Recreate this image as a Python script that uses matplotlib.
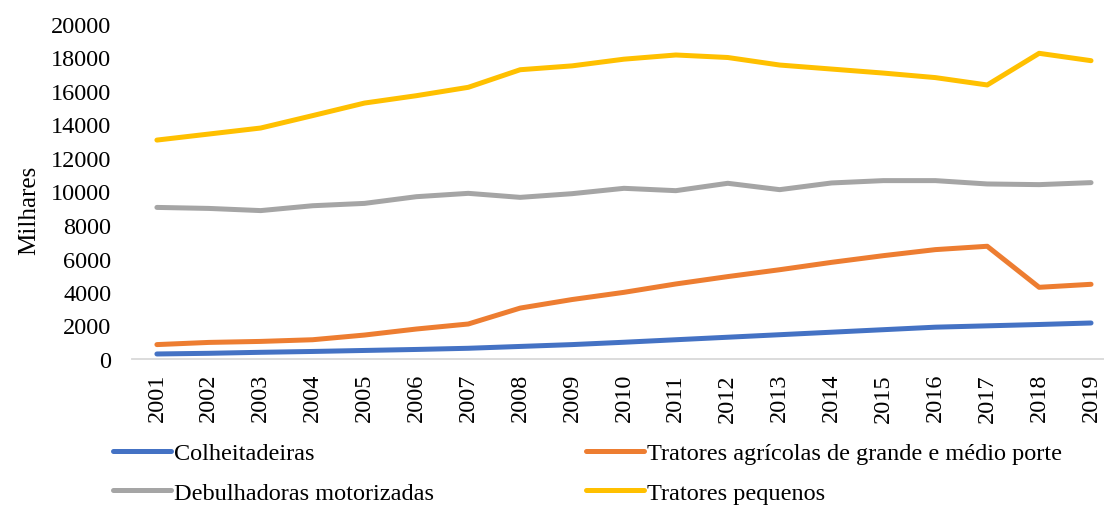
import matplotlib
matplotlib.use("Agg")
import matplotlib.pyplot as plt

years = [str(y) for y in range(2001, 2020)]
colheitadeiras = [300, 340, 400, 450, 510, 570, 640, 750, 860, 1000, 1150, 1300, 1450, 1600, 1750, 1900, 1980, 2060, 2150]
tratores_grandes = [860, 990, 1050, 1150, 1430, 1790, 2090, 3040, 3550, 3980, 4480, 4920, 5330, 5770, 6170, 6530, 6730, 4280, 4460]
debulhadoras = [9050, 8990, 8860, 9150, 9290, 9690, 9890, 9650, 9870, 10190, 10050, 10490, 10110, 10510, 10650, 10650, 10450, 10410, 10530]
tratores_pequenos = [13070, 13430, 13790, 14530, 15280, 15720, 16220, 17270, 17500, 17900, 18150, 18000, 17550, 17310, 17070, 16800, 16360, 18250, 17810]

labels = ["Colheitadeiras", "Tratores agrícolas de grande e médio porte",
          "Debulhadoras motorizadas", "Tratores pequenos"]
colors = ["#4472C4", "#ED7D31", "#A5A5A5", "#FFC000"]
series = [colheitadeiras, tratores_grandes, debulhadoras, tratores_pequenos]

plt.rcParams['font.family'] = ['Liberation Serif', 'DejaVu Serif']
FS = 17.5

fig = plt.figure(figsize=(11.04, 5.06), dpi=100)
W, H = 1104, 506
ax = fig.add_axes([132 / W, 1 - 360 / H, (1104 - 132) / W, (360 - 25) / H])

x = list(range(len(years)))
handles = []
for vals, c, lab in zip(series, colors, labels):
    h, = ax.plot(x, vals, color=c, lw=3.6, solid_capstyle='round', label=lab)
    handles.append(h)

ax.set_xlim(-0.48, 18.25)
ax.set_ylim(0, 20000)
ax.set_yticks(range(0, 20001, 2000))
ax.set_yticklabels([str(v) for v in range(0, 20001, 2000)], fontsize=FS)
ax.set_xticks(x)
ax.set_xticklabels(years, rotation=90, fontsize=FS)
ax.tick_params(axis='both', length=0)
ax.tick_params(axis='y', pad=15)
ax.tick_params(axis='x', pad=10)
for s in ['top', 'right', 'left']:
    ax.spines[s].set_visible(False)
ax.spines['bottom'].set_color('#D9D9D9')
ax.spines['bottom'].set_linewidth(1.3)
ax.set_ylabel("Milhares", fontsize=18)
ax.yaxis.set_label_coords(-92 / 972, 0.448)

common = dict(frameon=False, fontsize=FS, handlelength=2.4, handletextpad=0.1,
              labelspacing=0.72, borderpad=0, borderaxespad=0, loc='upper left')
fig.legend([handles[0], handles[2]], [labels[0], labels[2]],
           bbox_to_anchor=(113 / W, 1 - 443 / H), **common)
fig.legend([handles[1], handles[3]], [labels[1], labels[3]],
           bbox_to_anchor=(586 / W, 1 - 443 / H), **common)

fig.savefig("out.png", dpi=100)
